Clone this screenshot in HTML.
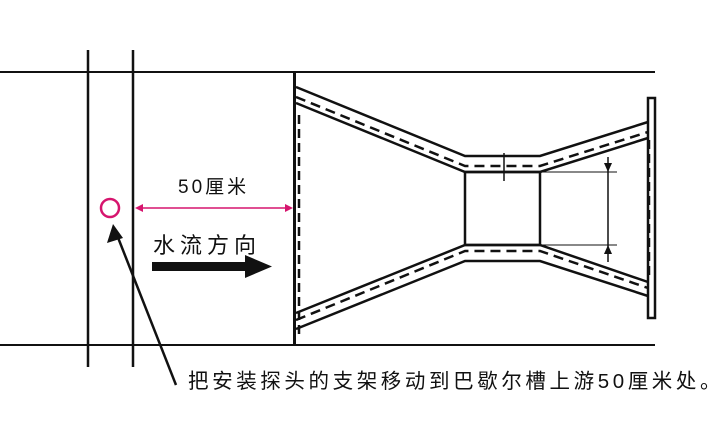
<!DOCTYPE html>
<html><head><meta charset="utf-8"><style>
body{margin:0;background:#fff}
svg{display:block}
text{font-family:"Liberation Sans","Noto Sans CJK SC",sans-serif;fill:#111}
</style></head><body>
<svg width="709" height="437" viewBox="0 0 709 437" xmlns="http://www.w3.org/2000/svg">
<rect width="709" height="437" fill="#fff"/>
<g stroke="#111" fill="none">
<line x1="0" y1="72" x2="655" y2="72" stroke-width="2"/>
<line x1="0" y1="345" x2="655" y2="345" stroke-width="2"/>
<line x1="88" y1="50" x2="88" y2="367" stroke-width="2.5"/>
<line x1="133" y1="50" x2="133" y2="367" stroke-width="2.5"/>
<rect x="293" y="73" width="3" height="272" fill="#111" stroke="none"/>
<line x1="299" y1="115" x2="299" y2="335" stroke-width="2.5" stroke-dasharray="9,5"/>
<rect x="648" y="98" width="7" height="220" stroke-width="2.5"/>
<line x1="649" y1="140" x2="649" y2="280" stroke-width="2.5" stroke-dasharray="9,5"/>
<polyline points="296,87 465,156 540,156 648,122" stroke-width="2.5"/>
<polyline points="296,103 465,172 540,172 648,138" stroke-width="2.5"/>
<polyline points="296,97 465,166 540,166 648,132" stroke-width="2.5" stroke-dasharray="10,6"/>
<polyline points="296,313 465,245 540,245 648,282" stroke-width="2.5"/>
<polyline points="296,329 465,261 540,261 648,296" stroke-width="2.5"/>
<polyline points="296,320 465,251 540,251 648,288" stroke-width="2.5" stroke-dasharray="10,6"/>
<rect x="465" y="172" width="75" height="73" stroke-width="2.5"/>
<line x1="504" y1="153" x2="504" y2="181" stroke-width="1.5"/>
<line x1="540" y1="172" x2="617" y2="172" stroke-width="1"/>
<line x1="540" y1="245" x2="617" y2="245" stroke-width="1"/>
<line x1="608" y1="157" x2="608" y2="262" stroke-width="1.5"/>
</g>
<polygon points="608,172 604,163 612,163" fill="#111"/>
<polygon points="608,245 604,254 612,254" fill="#111"/>
<circle cx="110" cy="208" r="9" fill="none" stroke="#d6156e" stroke-width="2.5"/>
<line x1="140" y1="208" x2="287" y2="208" stroke="#d6156e" stroke-width="1.5"/>
<polygon points="135,208 143,204 143,212" fill="#d6156e"/>
<polygon points="293,208 285,204 285,212" fill="#d6156e"/>
<text x="178" y="193" font-size="19" letter-spacing="3">50厘米</text>
<text x="153" y="253" font-size="22" letter-spacing="5">水流方向</text>
<rect x="152" y="262" width="95" height="9" fill="#111"/>
<polygon points="245,255 272,266.5 245,278" fill="#111"/>
<line x1="176" y1="385" x2="117" y2="235" stroke="#111" stroke-width="2.5"/>
<polygon points="113,224 107,243 123,238" fill="#111"/>
<text x="188" y="388" font-size="20.5" letter-spacing="3.6">把安装探头的支架移动到巴歇尔槽上游50厘米处。</text>
</svg>
</body></html>
